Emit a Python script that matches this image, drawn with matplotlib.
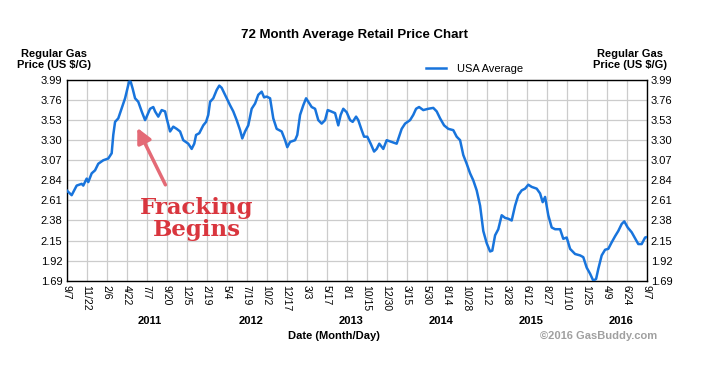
import matplotlib
matplotlib.use("Agg")
import matplotlib.pyplot as plt

plt.rcParams['font.family'] = ['Liberation Sans', 'DejaVu Sans']

# position along the date axis, in tick steps (0 = 9/7/2010, 29 = 9/7/2016)
pos = [0, 0.25, 0.5, 0.75, 0.83, 1.0, 1.08, 1.25, 1.42, 1.58, 1.83, 2.08, 2.25, 2.33, 2.42,
       2.58, 2.7, 2.92, 3.0, 3.12, 3.2, 3.3, 3.42, 3.58, 3.75, 3.92, 4.0, 4.17, 4.33, 4.42,
       4.58, 4.75, 4.92, 5.0, 5.17, 5.33, 5.5, 5.67, 5.83, 6.08, 6.25, 6.38, 6.47, 6.63, 6.83,
       6.97, 7.08, 7.17, 7.33, 7.5, 7.63, 7.75, 7.92, 8.17, 8.33, 8.5, 8.67, 8.78, 8.92, 9.08,
       9.25, 9.42, 9.58, 9.75, 9.87, 10.0, 10.17, 10.33, 10.5, 10.75, 10.92, 11.03, 11.17, 11.42,
       11.53, 11.67, 11.83, 11.97, 12.08, 12.25, 12.42, 12.58, 12.75, 12.92, 13.05, 13.22, 13.42,
       13.58, 13.7, 13.83, 14.0, 14.17, 14.3, 14.47, 14.58, 14.75, 14.87, 15.03, 15.2, 15.37,
       15.5, 15.63, 15.83, 16.0, 16.25, 16.5, 16.75, 16.92, 17.17, 17.33, 17.47, 17.62, 17.83,
       18.08, 18.33, 18.5, 18.67, 18.87, 19.08, 19.33, 19.5, 19.67, 19.83, 20.0, 20.17, 20.33,
       20.5, 20.67, 20.83, 21.0, 21.17, 21.28, 21.42, 21.58, 21.75, 21.92, 22.08, 22.25, 22.42,
       22.58, 22.75, 22.92, 23.08, 23.25, 23.5, 23.67, 23.8, 23.92, 24.08, 24.25, 24.42, 24.67,
       24.83, 25.0, 25.17, 25.42, 25.67, 25.83, 26.0, 26.17, 26.33, 26.47, 26.58, 26.75, 26.92,
       27.08, 27.25, 27.42, 27.58, 27.75, 27.88, 28.05, 28.25, 28.42, 28.58, 28.75, 28.92, 29.0]
price = [2.725, 2.67, 2.78, 2.80, 2.78, 2.86, 2.82, 2.92, 2.955, 3.03, 3.07, 3.09, 3.15, 3.36, 3.51,
         3.55, 3.63, 3.78, 3.856, 3.97, 3.97, 3.89, 3.78, 3.74, 3.63, 3.53, 3.57, 3.66, 3.68, 3.63,
         3.57, 3.645, 3.63, 3.55, 3.40, 3.455, 3.43, 3.40, 3.30, 3.26, 3.20, 3.26, 3.36, 3.38, 3.47,
         3.51, 3.59, 3.74, 3.78, 3.875, 3.925, 3.90, 3.82, 3.70, 3.63, 3.53, 3.415, 3.32, 3.40, 3.47,
         3.66, 3.72, 3.82, 3.856, 3.79, 3.80, 3.78, 3.55, 3.43, 3.40, 3.30, 3.22, 3.28, 3.30,
         3.36, 3.59, 3.70, 3.78, 3.74, 3.68, 3.66, 3.53, 3.49, 3.53, 3.645, 3.63, 3.61,
         3.47, 3.59, 3.66, 3.62, 3.53, 3.51, 3.57, 3.53, 3.415, 3.34, 3.34, 3.26, 3.17,
         3.20, 3.26, 3.20, 3.30, 3.28, 3.26, 3.43, 3.49, 3.53, 3.59, 3.66, 3.68, 3.645,
         3.66, 3.67, 3.63, 3.55, 3.47, 3.43, 3.415, 3.34, 3.30, 3.13, 3.03, 2.92, 2.84,
         2.725, 2.55, 2.26, 2.12, 2.025, 2.035, 2.21, 2.28, 2.44, 2.41, 2.40, 2.38, 2.55,
         2.67, 2.725, 2.745, 2.79, 2.765, 2.745, 2.69, 2.59, 2.65, 2.44, 2.30, 2.28, 2.28,
         2.17, 2.185, 2.055, 1.996, 1.98, 1.96, 1.84, 1.77, 1.69, 1.71, 1.825, 1.98, 2.045,
         2.055, 2.13, 2.20, 2.26, 2.34, 2.37, 2.30, 2.245, 2.175, 2.11, 2.11, 2.185, 2.19]

date_labels = ['9/7', '11/22', '2/6', '4/22', '7/7', '9/20', '12/5', '2/19', '5/4', '7/19',
               '10/2', '12/17', '3/3', '5/17', '8/1', '10/15', '12/30', '3/15', '5/30', '8/14',
               '10/28', '1/12', '3/28', '6/12', '8/27', '11/10', '1/25', '4/9', '6/24', '9/7']
y_ticks = [1.69, 1.92, 2.15, 2.38, 2.61, 2.84, 3.07, 3.30, 3.53, 3.76, 3.99]
years = ['2011', '2012', '2013', '2014', '2015', '2016']
year_pos = [4.17, 9.2, 14.2, 18.7, 23.2, 27.7]

blue = '#1874dc'

fig = plt.figure(figsize=(7.07, 3.67), dpi=100)
ax = fig.add_axes([0.0943, 0.2351, 0.8204, 0.547])
ax.plot(pos, price, color=blue, lw=1.8, label='USA Average', zorder=3)

ax.set_xlim(0, 29)
ax.set_ylim(1.69, 3.99)
ax.set_xticks(range(len(date_labels)))
ax.set_xticklabels(date_labels, rotation=-90, fontsize=7.5)
ax.set_yticks(y_ticks)
ax.set_yticklabels(['%.2f' % v for v in y_ticks], fontsize=8)
ax.tick_params(axis='both', length=0, pad=3)
ax.tick_params(axis='y', labelright=True)
ax.grid(True, color='#cccccc', lw=0.9)
for s in ax.spines.values():
    s.set_linewidth(1.0)
    s.set_color('black')

for yr, xp in zip(years, year_pos):
    ax.text(xp, -0.2, yr, transform=ax.get_xaxis_transform(), ha='center', va='center',
            fontsize=8, fontweight='bold')

fig.text(0.502, 0.905, '72 Month Average Retail Price Chart', ha='center', va='center',
         fontsize=9.5, fontweight='bold')
fig.text(0.077, 0.838, 'Regular Gas\nPrice (US $/G)', ha='center', va='center',
         fontsize=8, fontweight='bold', linespacing=1.05)
fig.text(0.891, 0.838, 'Regular Gas\nPrice (US $/G)', ha='center', va='center',
         fontsize=8, fontweight='bold', linespacing=1.05)
fig.text(0.473, 0.085, 'Date (Month/Day)', ha='center', va='center',
         fontsize=8, fontweight='bold')
fig.text(0.929, 0.085, '\u00a92016 GasBuddy.com', ha='right', va='center',
         fontsize=8, fontweight='bold', color='#a0a0a0')

ax.legend(loc='lower left', bbox_to_anchor=(0.617, 1.025), frameon=False, fontsize=8,
          handlelength=1.8, handletextpad=1.0, borderaxespad=0, borderpad=0.1)

ax.annotate('', xy=(3.47, 3.47), xytext=(5.0, 2.76),
            arrowprops=dict(arrowstyle='-|>', color='#e46a76', lw=2.5, mutation_scale=22),
            zorder=4)
ax.text(6.52, 2.40, 'Fracking\nBegins', ha='center', va='center', color='#d9363e',
        fontsize=16.5, fontweight='bold', family='DejaVu Serif', linespacing=1.0, zorder=4)

fig.savefig('out.png', dpi=100)
